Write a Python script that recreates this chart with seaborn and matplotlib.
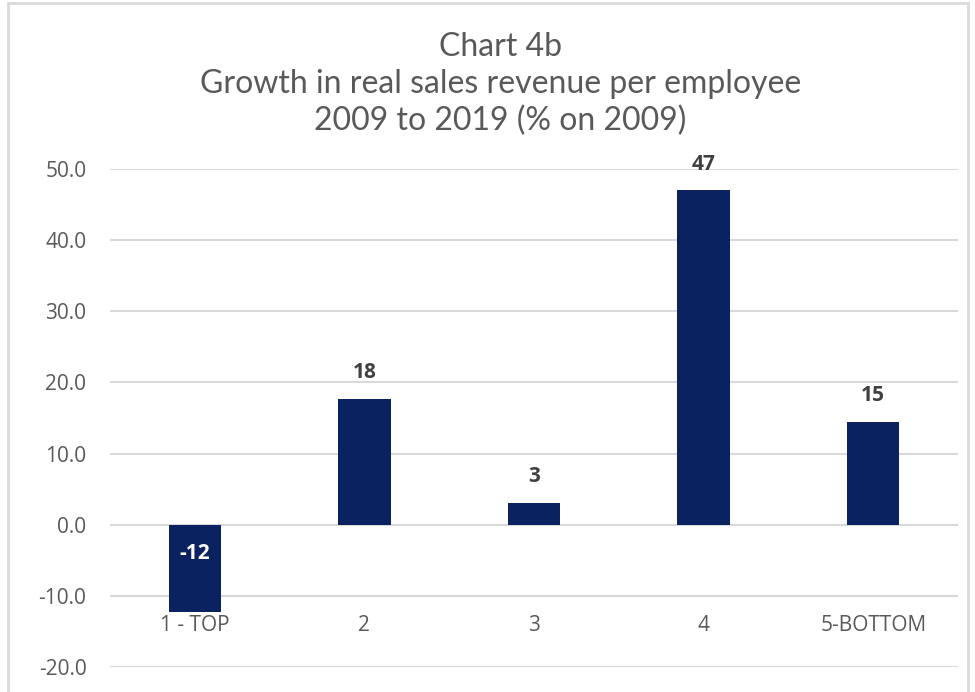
import matplotlib
matplotlib.use("Agg")
import matplotlib.pyplot as plt
import seaborn as sns
import pandas as pd
from matplotlib.patches import Rectangle

categories = ["1 - TOP", "2", "3", "4", "5-BOTTOM"]
values = [-12.2, 17.7, 3.1, 47.0, 14.5]
value_labels = ["-12", "18", "3", "47", "15"]
yticks = [-20, -10, 0, 10, 20, 30, 40, 50]

sns.set_theme(style="white")
plt.rcParams['font.family'] = ['Open Sans', 'DejaVu Sans']

df = pd.DataFrame({"cat": categories, "val": values})

fig = plt.figure(figsize=(9.75, 6.92), dpi=100)
ax = fig.add_axes([110/975, 25/692, 848/975, (667-169)/692])

navy = "#0B2260"
sns.barplot(data=df, x="cat", y="val", color=navy, width=0.31, ax=ax,
            saturation=1, edgecolor=navy, linewidth=0)

ax.set_ylim(-20, 50)
ax.set_xlim(-0.5, 4.5)
ax.set_yticks(yticks)
ax.set_yticklabels([f"{t:.1f}" for t in yticks], fontsize=15, color="#595959")
ax.tick_params(axis="y", length=0, pad=17)
ax.set_xticks([])
ax.set_xlabel("")
ax.set_ylabel("")
for s in ax.spines.values():
    s.set_visible(False)
ax.yaxis.grid(True, color="#D9D9D9", linewidth=1.5)
ax.set_axisbelow(True)

for i, (v, lab) in enumerate(zip(values, value_labels)):
    if v >= 0:
        ax.text(i, v + 3.7, lab, ha="center", va="center", fontsize=15,
                fontweight="bold", color="#404040")
    else:
        ax.text(i, -4.0, lab, ha="center", va="center", fontsize=15,
                fontweight="bold", color="white")
    ax.text(i, -14.1, categories[i], ha="center", va="center", fontsize=15,
            color="#595959")

title = "Chart 4b\nGrowth in real sales revenue per employee\n2009 to 2019 (% on 2009)"
fig.text(0.513, 1 - 84/692, title, ha="center", va="center", fontsize=23,
         color="#595959", family=["Lato", "DejaVu Sans"], linespacing=1.27)

fig.patches.append(Rectangle((8/975, -0.1), (968-8)/975, 1 - 3/692 + 0.1,
                             transform=fig.transFigure, fill=False,
                             edgecolor="#D9D9D9", linewidth=2))

fig.savefig("out.png", dpi=100, facecolor="white")
